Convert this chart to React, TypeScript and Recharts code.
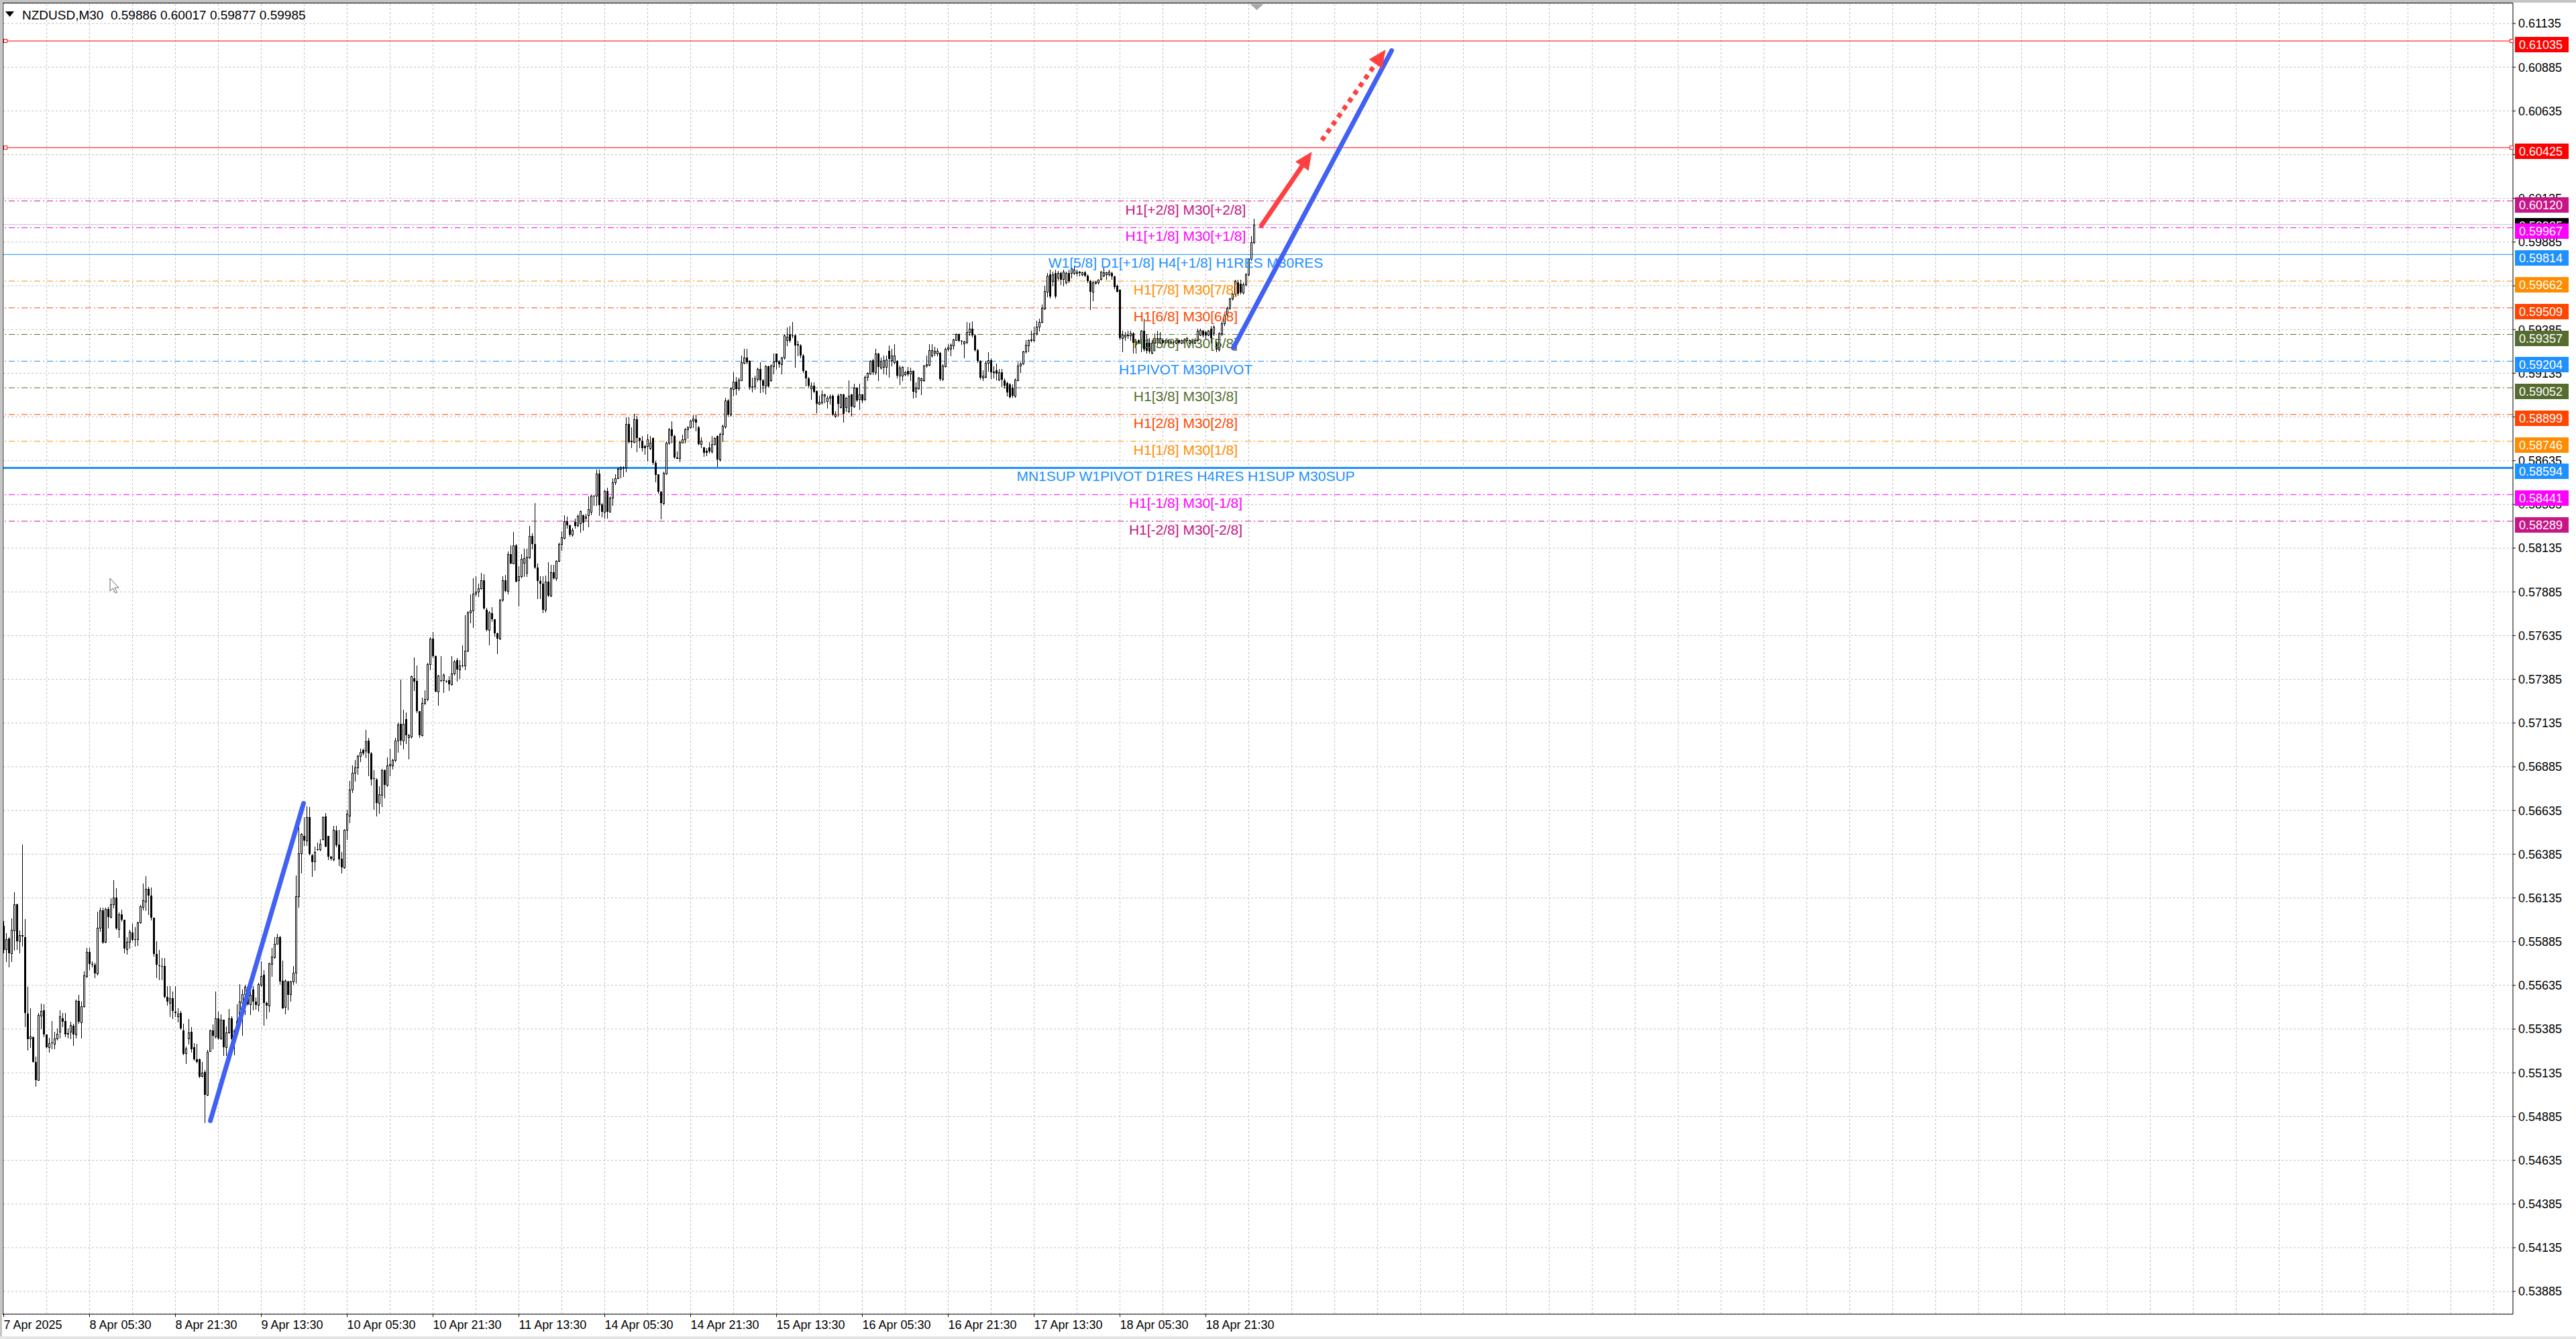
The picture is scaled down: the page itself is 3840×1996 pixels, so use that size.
import React from "react";
import { ComposedChart, Bar, XAxis, YAxis, CartesianGrid, ReferenceLine, ReferenceDot } from "recharts";

const FONT = "'Liberation Sans', Arial, sans-serif";

// NZDUSD M30 bars [open, high, low, close], bar 0 = 7 Apr 2025
const ohlc: number[][] = [
[0.55976,0.56002,0.55823,0.55836],[0.55842,0.55932,0.55772,0.55900],[0.55902,0.55912,0.55740,0.55817],[0.55817,0.56017,0.55772,0.55951],
[0.55948,0.56168,0.55836,0.56098],[0.56100,0.56104,0.55842,0.55887],[0.55887,0.55948,0.55823,0.55921],[0.55923,0.56439,0.55861,0.55915],
[0.55910,0.56015,0.55401,0.55478],[0.55474,0.55625,0.55267,0.55327],[0.55331,0.55503,0.55280,0.55342],[0.55340,0.55343,0.55196,0.55196],
[0.55196,0.55228,0.55058,0.55094],[0.55094,0.55478,0.55092,0.55465],[0.55462,0.55531,0.55388,0.55488],[0.55493,0.55529,0.55343,0.55356],
[0.55356,0.55356,0.55276,0.55280],[0.55280,0.55337,0.55256,0.55305],[0.55308,0.55430,0.55273,0.55308],[0.55301,0.55369,0.55273,0.55331],
[0.55331,0.55388,0.55324,0.55359],[0.55369,0.55493,0.55337,0.55459],[0.55446,0.55478,0.55401,0.55427],[0.55433,0.55478,0.55343,0.55356],
[0.55363,0.55388,0.55337,0.55356],[0.55369,0.55427,0.55331,0.55407],[0.55405,0.55414,0.55292,0.55356],[0.55356,0.55554,0.55337,0.55546],
[0.55546,0.55580,0.55420,0.55427],[0.55424,0.55542,0.55337,0.55516],[0.55514,0.55714,0.55510,0.55691],[0.55689,0.55849,0.55682,0.55827],
[0.55827,0.55849,0.55727,0.55759],[0.55759,0.55772,0.55740,0.55753],[0.55755,0.55765,0.55682,0.55705],[0.55705,0.56056,0.55695,0.55964],
[0.55964,0.56081,0.55944,0.56063],[0.56063,0.56079,0.55878,0.55881],[0.55883,0.56079,0.55881,0.56072],[0.56072,0.56085,0.55964,0.56024],
[0.56024,0.56132,0.56021,0.56098],[0.56098,0.56237,0.56079,0.56136],[0.56136,0.56191,0.55957,0.55960],[0.55957,0.56053,0.55912,0.56040],
[0.56040,0.56069,0.56002,0.56012],[0.56011,0.56011,0.55823,0.55846],[0.55842,0.55912,0.55813,0.55884],[0.55884,0.55951,0.55849,0.55941],
[0.55938,0.55989,0.55893,0.55897],[0.55900,0.55970,0.55861,0.55900],[0.55900,0.56000,0.55864,0.55996],[0.55996,0.56094,0.55992,0.56089],
[0.56085,0.56217,0.56069,0.56120],[0.56113,0.56260,0.56066,0.56187],[0.56187,0.56200,0.56040,0.56149],[0.56149,0.56196,0.56012,0.56021],
[0.56021,0.56021,0.55804,0.55813],[0.55813,0.55887,0.55682,0.55753],[0.55749,0.55838,0.55670,0.55744],[0.55746,0.55791,0.55670,0.55744],
[0.55746,0.55791,0.55567,0.55570],[0.55570,0.55629,0.55522,0.55542],[0.55535,0.55631,0.55459,0.55561],[0.55561,0.55599,0.55446,0.55488],
[0.55484,0.55631,0.55459,0.55478],[0.55459,0.55506,0.55427,0.55475],[0.55478,0.55490,0.55386,0.55388],[0.55378,0.55416,0.55241,0.55245],
[0.55248,0.55286,0.55190,0.55273],[0.55331,0.55442,0.55299,0.55365],[0.55369,0.55395,0.55254,0.55269],[0.55280,0.55305,0.55209,0.55212],
[0.55212,0.55301,0.55194,0.55199],[0.55212,0.55215,0.55109,0.55113],[0.55116,0.55196,0.55113,0.55135],[0.55139,0.55152,0.54851,0.55011],
[0.55011,0.55267,0.55007,0.55254],[0.55260,0.55382,0.55258,0.55378],[0.55378,0.55411,0.55273,0.55347],[0.55343,0.55599,0.55337,0.55446],
[0.55446,0.55484,0.55327,0.55331],[0.55331,0.55471,0.55327,0.55437],[0.55437,0.55439,0.55235,0.55280],[0.55280,0.55401,0.55235,0.55365],
[0.55365,0.55501,0.55363,0.55446],[0.55446,0.55459,0.55324,0.55327],[0.55327,0.55382,0.55241,0.55378],[0.55376,0.55529,0.55373,0.55433],
[0.55429,0.55644,0.55427,0.55542],[0.55535,0.55612,0.55350,0.55586],[0.55583,0.55638,0.55471,0.55625],[0.55625,0.55638,0.55522,0.55526],
[0.55526,0.55606,0.55471,0.55580],[0.55612,0.55629,0.55497,0.55542],[0.55544,0.55567,0.55501,0.55522],[0.55522,0.55650,0.55490,0.55644],
[0.55638,0.55772,0.55631,0.55689],[0.55695,0.55721,0.55407,0.55535],[0.55535,0.55542,0.55446,0.55519],[0.55519,0.55765,0.55484,0.55762],
[0.55759,0.55849,0.55689,0.55800],[0.55797,0.55912,0.55790,0.55874],[0.55874,0.55928,0.55874,0.55910],[0.55910,0.55919,0.55644,0.55659],
[0.55663,0.55778,0.55503,0.55506],[0.55510,0.55670,0.55475,0.55663],[0.55657,0.55663,0.55497,0.55580],[0.55583,0.55663,0.55548,0.55657],
[0.55657,0.55744,0.55644,0.55708],[0.55708,0.56264,0.55650,0.56145],[0.56143,0.56546,0.56085,0.56392],[0.56392,0.56507,0.56277,0.56501],
[0.56488,0.56597,0.56437,0.56462],[0.56462,0.56657,0.56437,0.56597],[0.56597,0.56654,0.56383,0.56386],[0.56379,0.56388,0.56260,0.56341],
[0.56345,0.56430,0.56296,0.56398],[0.56414,0.56450,0.56409,0.56414],[0.56414,0.56469,0.56405,0.56443],[0.56469,0.56603,0.56465,0.56597],
[0.56601,0.56622,0.56427,0.56430],[0.56488,0.56488,0.56354,0.56370],[0.56370,0.56375,0.56350,0.56358],[0.56354,0.56546,0.56347,0.56524],
[0.56520,0.56546,0.56430,0.56437],[0.56439,0.56526,0.56322,0.56354],[0.56360,0.56396,0.56277,0.56311],[0.56311,0.56529,0.56306,0.56524],
[0.56526,0.56641,0.56469,0.56616],[0.56605,0.56804,0.56565,0.56756],[0.56756,0.56891,0.56740,0.56851],[0.56851,0.56923,0.56804,0.56883],
[0.56883,0.56955,0.56843,0.56947],[0.56947,0.56987,0.56915,0.56971],[0.56979,0.56987,0.56955,0.56963],[0.56976,0.57095,0.56939,0.57030],
[0.57034,0.57050,0.56835,0.56963],[0.56963,0.56971,0.56780,0.56811],[0.56819,0.56867,0.56644,0.56819],[0.56811,0.56819,0.56605,0.56676],
[0.56676,0.56772,0.56620,0.56727],[0.56724,0.56875,0.56660,0.56864],[0.56864,0.56870,0.56708,0.56780],[0.56780,0.56939,0.56772,0.56891],
[0.56891,0.56987,0.56835,0.56899],[0.56891,0.56931,0.56875,0.56923],[0.56923,0.57050,0.56915,0.57034],[0.57034,0.57138,0.56971,0.57125],
[0.57130,0.57385,0.57011,0.57034],[0.57034,0.57210,0.56987,0.57130],[0.57157,0.57194,0.57018,0.57066],[0.57055,0.57074,0.56931,0.57066],
[0.57058,0.57405,0.57050,0.57401],[0.57393,0.57512,0.57321,0.57374],[0.57377,0.57464,0.57194,0.57202],[0.57202,0.57205,0.57055,0.57066],
[0.57066,0.57281,0.57062,0.57249],[0.57249,0.57321,0.57241,0.57273],[0.57273,0.57480,0.57265,0.57472],[0.57472,0.57624,0.57440,0.57616],
[0.57616,0.57655,0.57512,0.57517],[0.57517,0.57520,0.57313,0.57316],[0.57316,0.57412,0.57237,0.57405],[0.57380,0.57517,0.57374,0.57380],
[0.57380,0.57417,0.57310,0.57409],[0.57377,0.57380,0.57369,0.57377],[0.57380,0.57401,0.57321,0.57358],[0.57358,0.57517,0.57353,0.57417],
[0.57417,0.57496,0.57409,0.57488],[0.57496,0.57507,0.57377,0.57440],[0.57440,0.57496,0.57393,0.57464],[0.57463,0.57581,0.57456,0.57463],
[0.57463,0.57751,0.57440,0.57549],[0.57549,0.57775,0.57544,0.57767],[0.57767,0.57870,0.57711,0.57778],[0.57778,0.57963,0.57683,0.57874],
[0.57874,0.57974,0.57862,0.57886],[0.57886,0.57934,0.57858,0.57905],[0.57905,0.57995,0.57902,0.57950],[0.57950,0.57985,0.57788,0.57791],
[0.57783,0.57794,0.57663,0.57667],[0.57667,0.57775,0.57584,0.57767],[0.57762,0.57799,0.57719,0.57727],[0.57727,0.57730,0.57632,0.57648],
[0.57648,0.57651,0.57533,0.57619],[0.57619,0.57842,0.57612,0.57839],[0.57839,0.57974,0.57831,0.57953],[0.57953,0.57982,0.57886,0.57890],
[0.57890,0.58117,0.57874,0.58101],[0.58101,0.58149,0.58046,0.58049],[0.58049,0.58229,0.58046,0.58149],[0.58149,0.58157,0.57942,0.57942],
[0.57950,0.58030,0.57804,0.57974],[0.57974,0.58101,0.57966,0.58074],[0.58050,0.58133,0.57974,0.58077],[0.57995,0.58133,0.57974,0.58085],
[0.58081,0.58261,0.58077,0.58205],[0.58205,0.58221,0.58133,0.58160],[0.58160,0.58393,0.58022,0.58026],[0.58026,0.58049,0.57847,0.57947],
[0.57947,0.57974,0.57847,0.57934],[0.57931,0.57974,0.57767,0.57783],[0.57783,0.57979,0.57772,0.57942],[0.57942,0.58054,0.57858,0.57862],
[0.57862,0.58038,0.57858,0.57998],[0.57998,0.58038,0.57958,0.57963],[0.57963,0.58065,0.57950,0.58062],[0.58062,0.58165,0.58058,0.58160],
[0.58160,0.58233,0.58125,0.58197],[0.58194,0.58322,0.58188,0.58290],[0.58290,0.58315,0.58252,0.58264],[0.58264,0.58270,0.58205,0.58213],
[0.58213,0.58250,0.58205,0.58240],[0.58285,0.58303,0.58252,0.58262],[0.58264,0.58328,0.58258,0.58319],[0.58277,0.58351,0.58226,0.58347],
[0.58322,0.58328,0.58239,0.58280],[0.58309,0.58330,0.58295,0.58315],[0.58322,0.58431,0.58258,0.58356],[0.58341,0.58437,0.58328,0.58433],
[0.58433,0.58437,0.58379,0.58433],[0.58433,0.58584,0.58379,0.58561],[0.58561,0.58584,0.58322,0.58379],[0.58386,0.58392,0.58315,0.58344],
[0.58344,0.58469,0.58309,0.58463],[0.58463,0.58482,0.58309,0.58344],[0.58344,0.58431,0.58341,0.58424],[0.58424,0.58533,0.58379,0.58510],
[0.58510,0.58558,0.58501,0.58535],[0.58535,0.58594,0.58533,0.58587],[0.58587,0.58605,0.58540,0.58597],[0.58597,0.58605,0.58545,0.58590],
[0.58597,0.58884,0.58571,0.58846],[0.58846,0.58884,0.58737,0.58740],[0.58748,0.58827,0.58712,0.58740],[0.58740,0.58904,0.58737,0.58872],
[0.58872,0.58891,0.58686,0.58763],[0.58763,0.58769,0.58712,0.58748],[0.58748,0.58776,0.58693,0.58705],[0.58718,0.58725,0.58674,0.58705],
[0.58718,0.58789,0.58635,0.58757],[0.58705,0.58776,0.58699,0.58737],[0.58763,0.58769,0.58616,0.58622],[0.58622,0.58635,0.58514,0.58552],
[0.58556,0.58558,0.58450,0.58456],[0.58456,0.58463,0.58303,0.58392],[0.58392,0.58571,0.58386,0.58565],[0.58561,0.58744,0.58558,0.58737],
[0.58737,0.58821,0.58731,0.58814],[0.58814,0.58859,0.58737,0.58776],[0.58776,0.58782,0.58648,0.58654],[0.58648,0.58686,0.58648,0.58654],
[0.58648,0.58748,0.58629,0.58740],[0.58737,0.58782,0.58737,0.58757],[0.58757,0.58821,0.58737,0.58814],[0.58814,0.58833,0.58763,0.58827],
[0.58827,0.58868,0.58821,0.58865],[0.58865,0.58893,0.58827,0.58875],[0.58872,0.58897,0.58808,0.58853],[0.58827,0.58833,0.58725,0.58731],
[0.58731,0.58769,0.58712,0.58750],[0.58712,0.58714,0.58661,0.58680],[0.58693,0.58705,0.58663,0.58680],[0.58712,0.58740,0.58680,0.58686],
[0.58686,0.58776,0.58680,0.58731],[0.58731,0.58770,0.58725,0.58763],[0.58776,0.58778,0.58603,0.58642],[0.58642,0.58795,0.58635,0.58789],
[0.58789,0.58840,0.58744,0.58833],[0.58830,0.58993,0.58821,0.58980],[0.58980,0.58987,0.58891,0.58897],[0.58897,0.59057,0.58891,0.59047],
[0.59044,0.59140,0.59006,0.59085],[0.59085,0.59115,0.59012,0.59044],[0.59047,0.59108,0.59038,0.59098],[0.59095,0.59236,0.59093,0.59198],
[0.59195,0.59274,0.59191,0.59223],[0.59223,0.59274,0.59191,0.59198],[0.59204,0.59210,0.59044,0.59057],[0.59060,0.59108,0.59031,0.59060],
[0.59060,0.59121,0.59044,0.59106],[0.59102,0.59166,0.59089,0.59159],[0.59159,0.59198,0.59025,0.59095],[0.59095,0.59102,0.59031,0.59063],
[0.59063,0.59182,0.59019,0.59175],[0.59175,0.59179,0.59057,0.59060],[0.59095,0.59188,0.59089,0.59179],[0.59175,0.59246,0.59134,0.59200],
[0.59246,0.59249,0.59159,0.59198],[0.59200,0.59210,0.59172,0.59188],[0.59188,0.59228,0.59134,0.59223],[0.59223,0.59358,0.59217,0.59351],
[0.59323,0.59396,0.59294,0.59345],[0.59354,0.59405,0.59313,0.59319],[0.59351,0.59428,0.59338,0.59351],[0.59351,0.59358,0.59172,0.59294],
[0.59300,0.59319,0.59236,0.59294],[0.59294,0.59300,0.59223,0.59236],[0.59236,0.59242,0.59140,0.59147],[0.59147,0.59153,0.59063,0.59106],
[0.59106,0.59115,0.59057,0.59063],[0.59047,0.59083,0.58987,0.59063],[0.59063,0.59083,0.59025,0.59031],[0.59034,0.59038,0.58910,0.58961],
[0.58961,0.59006,0.58955,0.58970],[0.58968,0.59038,0.58961,0.59012],[0.59006,0.59019,0.58968,0.59012],[0.58974,0.59006,0.58936,0.58996],
[0.58996,0.59012,0.58961,0.59003],[0.59006,0.59012,0.58893,0.58897],[0.58891,0.58916,0.58884,0.58904],[0.59006,0.59019,0.58891,0.58961],
[0.58942,0.59019,0.58936,0.59012],[0.59012,0.59019,0.58855,0.58904],[0.58942,0.59000,0.58916,0.58993],[0.58916,0.59095,0.58910,0.59006],
[0.59012,0.59019,0.58891,0.58945],[0.58945,0.59076,0.58942,0.59051],[0.59051,0.59057,0.58974,0.58980],[0.58987,0.59076,0.58929,0.59012],
[0.59012,0.59019,0.58968,0.58980],[0.58987,0.59121,0.58980,0.59115],[0.59115,0.59140,0.59095,0.59136],[0.59134,0.59210,0.59127,0.59204],
[0.59210,0.59217,0.59127,0.59140],[0.59140,0.59274,0.59127,0.59249],[0.59249,0.59251,0.59095,0.59172],[0.59166,0.59223,0.59159,0.59204],
[0.59172,0.59236,0.59134,0.59210],[0.59172,0.59236,0.59127,0.59213],[0.59262,0.59294,0.59115,0.59217],[0.59210,0.59274,0.59179,0.59236],
[0.59198,0.59300,0.59191,0.59236],[0.59204,0.59210,0.59108,0.59121],[0.59121,0.59179,0.59070,0.59166],[0.59121,0.59175,0.59095,0.59172],
[0.59127,0.59147,0.59121,0.59140],[0.59147,0.59172,0.59121,0.59127],[0.59134,0.59166,0.59095,0.59147],[0.59147,0.59153,0.58993,0.59031],
[0.59031,0.59083,0.58999,0.59051],[0.59047,0.59115,0.59044,0.59108],[0.59095,0.59111,0.59012,0.59106],[0.59095,0.59182,0.59089,0.59179],
[0.59179,0.59236,0.59172,0.59185],[0.59182,0.59300,0.59179,0.59268],[0.59236,0.59303,0.59230,0.59268],[0.59252,0.59287,0.59236,0.59264],
[0.59249,0.59277,0.59236,0.59262],[0.59251,0.59255,0.59095,0.59102],[0.59102,0.59185,0.59095,0.59179],[0.59175,0.59281,0.59172,0.59274],
[0.59274,0.59300,0.59262,0.59281],[0.59274,0.59306,0.59236,0.59297],[0.59294,0.59332,0.59274,0.59328],[0.59326,0.59364,0.59323,0.59358],
[0.59358,0.59364,0.59315,0.59319],[0.59319,0.59323,0.59300,0.59319],[0.59306,0.59319,0.59223,0.59315],[0.59313,0.59428,0.59306,0.59370],
[0.59370,0.59425,0.59351,0.59390],[0.59390,0.59430,0.59345,0.59351],[0.59351,0.59358,0.59262,0.59268],[0.59268,0.59274,0.59198,0.59204],
[0.59204,0.59210,0.59102,0.59108],[0.59108,0.59153,0.59095,0.59121],[0.59115,0.59204,0.59111,0.59195],[0.59195,0.59255,0.59147,0.59210],
[0.59210,0.59220,0.59106,0.59139],[0.59139,0.59175,0.59110,0.59145],[0.59152,0.59192,0.59099,0.59132],[0.59099,0.59159,0.59093,0.59139],
[0.59139,0.59159,0.59060,0.59099],[0.59096,0.59106,0.59053,0.59062],[0.59079,0.59086,0.59007,0.59026],[0.59073,0.59079,0.58993,0.59000],
[0.59053,0.59073,0.59000,0.59007],[0.59007,0.59106,0.59000,0.59099],[0.59096,0.59198,0.59093,0.59178],[0.59178,0.59198,0.59139,0.59192],
[0.59192,0.59264,0.59185,0.59258],[0.59258,0.59324,0.59251,0.59297],[0.59294,0.59330,0.59258,0.59324],[0.59324,0.59377,0.59317,0.59330],
[0.59324,0.59403,0.59317,0.59363],[0.59361,0.59436,0.59357,0.59400],[0.59400,0.59449,0.59377,0.59427],[0.59427,0.59529,0.59423,0.59509],
[0.59506,0.59635,0.59502,0.59604],[0.59601,0.59707,0.59575,0.59694],[0.59701,0.59727,0.59568,0.59575],[0.59661,0.59714,0.59635,0.59701],
[0.59707,0.59727,0.59568,0.59575],[0.59681,0.59720,0.59668,0.59707],[0.59707,0.59714,0.59641,0.59668],[0.59674,0.59727,0.59635,0.59714],
[0.59654,0.59714,0.59648,0.59707],[0.59707,0.59727,0.59654,0.59661],[0.59707,0.59740,0.59681,0.59734],[0.59707,0.59750,0.59701,0.59727],
[0.59707,0.59727,0.59694,0.59714],[0.59714,0.59720,0.59694,0.59707],[0.59701,0.59714,0.59694,0.59710],[0.59710,0.59720,0.59688,0.59694],
[0.59694,0.59701,0.59654,0.59661],[0.59661,0.59668,0.59502,0.59601],[0.59601,0.59661,0.59549,0.59654],[0.59652,0.59661,0.59648,0.59657],
[0.59654,0.59674,0.59648,0.59668],[0.59674,0.59720,0.59668,0.59714],[0.59694,0.59740,0.59687,0.59710],[0.59701,0.59714,0.59674,0.59710],
[0.59701,0.59727,0.59694,0.59714],[0.59707,0.59714,0.59674,0.59687],[0.59687,0.59694,0.59621,0.59628],[0.59635,0.59641,0.59601,0.59601],
[0.59612,0.59615,0.59330,0.59337],[0.59337,0.59377,0.59258,0.59357],[0.59344,0.59370,0.59324,0.59357],[0.59350,0.59377,0.59337,0.59357],
[0.59350,0.59377,0.59324,0.59363],[0.59363,0.59370,0.59251,0.59311],[0.59317,0.59330,0.59251,0.59297],[0.59324,0.59330,0.59311,0.59311],
[0.59311,0.59383,0.59258,0.59377],[0.59377,0.59449,0.59264,0.59271],[0.59311,0.59357,0.59251,0.59264],[0.59311,0.59337,0.59251,0.59258],
[0.59251,0.59324,0.59247,0.59311],[0.59311,0.59363,0.59264,0.59337],[0.59311,0.59377,0.59297,0.59337],[0.59311,0.59370,0.59304,0.59337],
[0.59324,0.59337,0.59304,0.59311],[0.59311,0.59330,0.59304,0.59324],[0.59324,0.59330,0.59304,0.59311],[0.59311,0.59324,0.59304,0.59317],
[0.59317,0.59324,0.59304,0.59311],[0.59311,0.59330,0.59304,0.59324],[0.59324,0.59330,0.59304,0.59311],[0.59311,0.59330,0.59304,0.59324],
[0.59311,0.59337,0.59304,0.59330],[0.59324,0.59344,0.59317,0.59337],[0.59311,0.59330,0.59304,0.59324],[0.59324,0.59330,0.59304,0.59311],
[0.59311,0.59337,0.59304,0.59324],[0.59324,0.59390,0.59317,0.59377],[0.59357,0.59390,0.59350,0.59383],[0.59377,0.59383,0.59344,0.59350],
[0.59370,0.59377,0.59337,0.59350],[0.59357,0.59383,0.59350,0.59377],[0.59390,0.59406,0.59311,0.59337],[0.59363,0.59410,0.59350,0.59403],
[0.59311,0.59317,0.59258,0.59271],[0.59271,0.59370,0.59264,0.59363],[0.59363,0.59430,0.59350,0.59420],[0.59420,0.59476,0.59410,0.59469],
[0.59469,0.59516,0.59463,0.59509],[0.59509,0.59568,0.59502,0.59562],[0.59562,0.59595,0.59555,0.59588],[0.59588,0.59668,0.59581,0.59661],
[0.59654,0.59668,0.59581,0.59588],[0.59648,0.59668,0.59588,0.59595],[0.59595,0.59654,0.59588,0.59641],[0.59641,0.59707,0.59634,0.59701],
[0.59701,0.59793,0.59694,0.59787],[0.59787,0.59919,0.59780,0.59886],[0.59886,0.60017,0.59877,0.59985],
];

const symbolName = "NZDUSD,M30";

const xTickBars = [0, 32, 64, 96, 128, 160, 192, 224, 256, 288, 320, 352, 384, 416, 448];
const xTickLabels = [
  "7 Apr 2025", "8 Apr 05:30", "8 Apr 21:30", "9 Apr 13:30", "10 Apr 05:30", "10 Apr 21:30", "11 Apr 13:30",
  "14 Apr 05:30", "14 Apr 21:30", "15 Apr 13:30", "16 Apr 05:30", "16 Apr 21:30", "17 Apr 13:30", "18 Apr 05:30", "18 Apr 21:30",
];

const yTicks = [
  0.53885, 0.54135, 0.54385, 0.54635, 0.54885, 0.55135, 0.55385, 0.55635, 0.55885, 0.56135,
  0.56385, 0.56635, 0.56885, 0.57135, 0.57385, 0.57635, 0.57885, 0.58135, 0.58385, 0.58635,
  0.58885, 0.59135, 0.59385, 0.59635, 0.59885, 0.60135, 0.60385, 0.60635, 0.60885, 0.61135,
];

const levelPrices = [0.61035, 0.60425, 0.6012, 0.59967, 0.59814, 0.59662, 0.59509, 0.59357, 0.59204, 0.59052, 0.58899, 0.58746, 0.58594, 0.58441, 0.58289];
const levelNames = [
  "", "", "H1[+2/8] M30[+2/8]", "H1[+1/8] M30[+1/8]", "W1[5/8] D1[+1/8] H4[+1/8] H1RES M30RES",
  "H1[7/8] M30[7/8]", "H1[6/8] M30[6/8]", "H1[5/8] M30[5/8]", "H1PIVOT M30PIVOT", "H1[3/8] M30[3/8]",
  "H1[2/8] M30[2/8]", "H1[1/8] M30[1/8]", "MN1SUP W1PIVOT D1RES H4RES H1SUP M30SUP", "H1[-1/8] M30[-1/8]", "H1[-2/8] M30[-2/8]",
];
const bidPrice = 0.59985;
const levelLabelBar = 440.5;

// drawn objects: [bar, price] endpoints
const blueTrendLines = [
  [[77, 0.54861], [111.75, 0.56676]],
  [[458.25, 0.5928], [517.25, 0.6098]],
];
const solidArrow = [[468.75, 0.5998], [487.5, 0.60401]];
const dottedArrow = [[491.25, 0.60467], [515, 0.60985]];
const shiftMarkBar = 467;

// ---- styles (kept apart from the data) ----
const levelColors = ["#FF0000", "#FF0000", "#C71585", "#FF00FF", "#1E90FF", "#FF8C00", "#FF4500", "#556B2F", "#1E90FF", "#556B2F", "#FF4500", "#FF8C00", "#1E90FF", "#FF00FF", "#C71585"];
const levelSolid = [true, true, false, false, true, false, false, false, false, false, false, false, true, false, false];
const levelWidths = [1, 1, 1, 1, 1, 1, 1, 1, 1, 1, 1, 1, 3, 1, 1];
const DASHDOT = "9 4 2 4";
const GRID = "#C0C0C0";
const BLUE = "#4160F4";
const RED = "#FF4040";

const X_DOMAIN: [number, number] = [-0.125, 935.125];
const Y_DOMAIN: [number, number] = [0.53755, 0.6125];

const data = ohlc.map((r, i) => ({ i, o: r[0], h: r[1], l: r[2], c: r[3], range: [r[2], r[1]] }));
const last = ohlc[ohlc.length - 1];
const fmt = (v: number) => v.toFixed(5);
const gridBars = Array.from({ length: 58 }, (_, k) => 16 * (k + 1));

const CandleShape = (props: any) => {
  const { x, y, width, height, payload } = props;
  if (x == null || y == null || !payload) return null;
  const { o, h, l, c } = payload;
  const yTop = Math.min(y, y + height);
  const hh = Math.abs(height);
  const span = h - l;
  const ppu = span > 0 ? hh / span : 0;
  const yOf = (v: number) => yTop + (h - v) * ppu;
  const X = Math.floor(x + width / 2);
  const top = Math.round(yOf(Math.max(o, c)));
  const bot = Math.round(yOf(Math.min(o, c)));
  const bull = c > o;
  return (
    <g>
      <line x1={X + 0.5} x2={X + 0.5} y1={Math.round(yTop)} y2={Math.round(yTop + hh) + 1} stroke="#000" strokeWidth={1} shapeRendering="crispEdges" />
      {bull ? (
        <rect x={X - 0.5} y={top + 0.5} width={2} height={Math.max(bot - top, 1)} fill="#fff" stroke="#000" strokeWidth={1} shapeRendering="crispEdges" />
      ) : (
        <rect x={X - 1} y={top} width={3} height={Math.max(bot - top, 1)} fill="#000" shapeRendering="crispEdges" />
      )}
    </g>
  );
};

const XTick = (props: any) => {
  const { x, y, payload } = props;
  const idx = xTickBars.indexOf(payload.value);
  if (idx < 0) return null;
  return (
    <text x={x} y={y} dy={16} fontSize={18} fontFamily={FONT} fill="#000" textAnchor="start">
      {xTickLabels[idx]}
    </text>
  );
};

const lineShape = (p: any) => (
  <line x1={p.x1} y1={p.y1} x2={p.x2} y2={p.y2} stroke={BLUE} strokeWidth={7} strokeLinecap="round" />
);

const arrowShape = (dotted: boolean) => (p: any) => {
  const { x1, y1, x2, y2 } = p;
  const dx = x2 - x1, dy = y2 - y1;
  const len = Math.hypot(dx, dy) || 1;
  const ux = dx / len, uy = dy / len;
  const headLen = 26, headW = 12;
  const bx = x2 - ux * headLen, by = y2 - uy * headLen;
  const px = -uy, py = ux;
  return (
    <g>
      <line x1={x1} y1={y1} x2={bx + ux * 3} y2={by + uy * 3} stroke={RED} strokeWidth={7}
        strokeLinecap={dotted ? "butt" : "round"} strokeDasharray={dotted ? "7 7" : undefined} />
      <polygon points={`${x2},${y2} ${bx + px * headW},${by + py * headW} ${bx - px * headW},${by - py * headW}`} fill={RED} />
    </g>
  );
};

const levelText = (text: string, color: string) => (p: any) => (
  <text x={p.cx} y={p.cy} dy={20} textAnchor="middle" fontSize={21} fontFamily={FONT} fill={color}>{text}</text>
);

const priceBox = (text: string, color: string, up: number) => (p: any) => (
  <g>
    <rect x={p.cx + 3} y={Math.round(p.cy) - up} width={80} height={23} fill={color} />
    <text x={p.cx + 9} y={Math.round(p.cy) - up + 18} fontSize={18} fontFamily={FONT} fill="#fff">{text}</text>
  </g>
);

const handle = (p: any) => (
  <rect x={Math.round(p.cx) - 2.5} y={Math.round(p.cy) - 2.5} width={5} height={5} fill="#fff" stroke="#FF0000" strokeWidth={1} />
);

const shiftMark = (p: any) => (
  <polygon points={`${p.cx - 10},${p.cy + 1} ${p.cx + 10},${p.cy + 1} ${p.cx},${p.cy + 10}`} fill="#A8A8A8" />
);

export default function App() {
  const header = `${symbolName}\u00A0\u00A0${fmt(last[0])} ${fmt(last[1])} ${fmt(last[2])} ${fmt(last[3])}`;
  return (
    <div style={{ position: "absolute", left: 0, top: 0, width: 3840, height: 1996, background: "#fff", overflow: "hidden" }}>
      <ComposedChart width={3840} height={1996} data={data} margin={{ top: 5, right: 0, bottom: 0, left: 5 }}>
        <CartesianGrid vertical={false} stroke={GRID} strokeDasharray="3 3" />
        <XAxis type="number" dataKey="i" domain={X_DOMAIN} allowDataOverflow ticks={xTickBars} interval={0}
          height={37} tick={XTick} tickSize={4} tickLine={{ stroke: "#000" }} axisLine={{ stroke: "#000" }} />
        <YAxis orientation="right" width={94} domain={Y_DOMAIN} allowDataOverflow ticks={yTicks} interval={0}
          tickFormatter={fmt} tickSize={4} tickMargin={4} tickLine={{ stroke: "#000" }} axisLine={{ stroke: "#000" }}
          tick={{ fill: "#000", fontSize: 18, fontFamily: FONT }} />
        {gridBars.map((b) => (
          <ReferenceLine key={`vg${b}`} x={b} stroke={GRID} strokeDasharray="3 3" zIndex={-90} />
        ))}
        {levelPrices.map((p, k) => (
          <ReferenceLine key={`lv${k}`} y={p} stroke={levelColors[k]} strokeWidth={levelWidths[k]}
            strokeDasharray={levelSolid[k] ? undefined : DASHDOT} zIndex={100} />
        ))}
        <ReferenceLine y={bidPrice} stroke="#C0C0C0" strokeWidth={1} zIndex={100} />
        <Bar dataKey="range" isAnimationActive={false} shape={CandleShape} barSize={3} />
        {levelPrices.map((p, k) =>
          levelNames[k] ? (
            <ReferenceDot key={`lt${k}`} x={levelLabelBar} y={p} r={0} ifOverflow="visible" zIndex={1500}
              shape={levelText(levelNames[k], levelColors[k])} />
          ) : null
        )}
        {blueTrendLines.map((seg, k) => (
          <ReferenceLine key={`bt${k}`} segment={[{ x: seg[0][0], y: seg[0][1] }, { x: seg[1][0], y: seg[1][1] }]}
            ifOverflow="visible" zIndex={1600} shape={lineShape} />
        ))}
        <ReferenceLine segment={[{ x: solidArrow[0][0], y: solidArrow[0][1] }, { x: solidArrow[1][0], y: solidArrow[1][1] }]}
          ifOverflow="visible" zIndex={1600} shape={arrowShape(false)} />
        <ReferenceLine segment={[{ x: dottedArrow[0][0], y: dottedArrow[0][1] }, { x: dottedArrow[1][0], y: dottedArrow[1][1] }]}
          ifOverflow="visible" zIndex={1600} shape={arrowShape(true)} />
        {[0, 1].map((k) => (
          <ReferenceDot key={`hl${k}`} x={0.5} y={levelPrices[k]} r={0} ifOverflow="visible" zIndex={1600} shape={handle} />
        ))}
        {[0, 1].map((k) => (
          <ReferenceDot key={`hr${k}`} x={934.6} y={levelPrices[k]} r={0} ifOverflow="visible" zIndex={1600} shape={handle} />
        ))}
        <ReferenceDot x={shiftMarkBar} y={Y_DOMAIN[1]} r={0} ifOverflow="visible" zIndex={1600} shape={shiftMark} />
        <ReferenceDot x={X_DOMAIN[1]} y={bidPrice} r={0} ifOverflow="visible" zIndex={2500}
          shape={priceBox(fmt(bidPrice), "#000", 10)} />
        {levelPrices.map((p, k) => (
          <ReferenceDot key={`pb${k}`} x={X_DOMAIN[1]} y={p} r={0} ifOverflow="visible" zIndex={2500}
            shape={priceBox(fmt(p), levelColors[k], 6)} />
        ))}
      </ComposedChart>
      <svg width={3840} height={1996} style={{ position: "absolute", left: 0, top: 0, pointerEvents: "none" }}>
        <rect x={0} y={0} width={3840} height={4} fill="#C4C4C4" />
        <rect x={0} y={0} width={3} height={1996} fill="#C4C4C4" />
        <rect x={0} y={1992} width={3840} height={4} fill="#E4E4E4" />
        <line x1={4} y1={4.5} x2={3746} y2={4.5} stroke="#000" strokeWidth={1} />
        <line x1={4.5} y1={4} x2={4.5} y2={1960} stroke="#000" strokeWidth={1} />
        <polygon points="8,17 21,17 14.5,25" fill="#000" />
        <text x={33} y={29} fontSize={19} fontFamily={FONT} fill="#000">{header}</text>
        <polygon points="164,862 164,881 168.5,877 172,884 174.5,883 171,876 177,876" fill="#fff" stroke="#666" strokeWidth={1} />
      </svg>
    </div>
  );
}
